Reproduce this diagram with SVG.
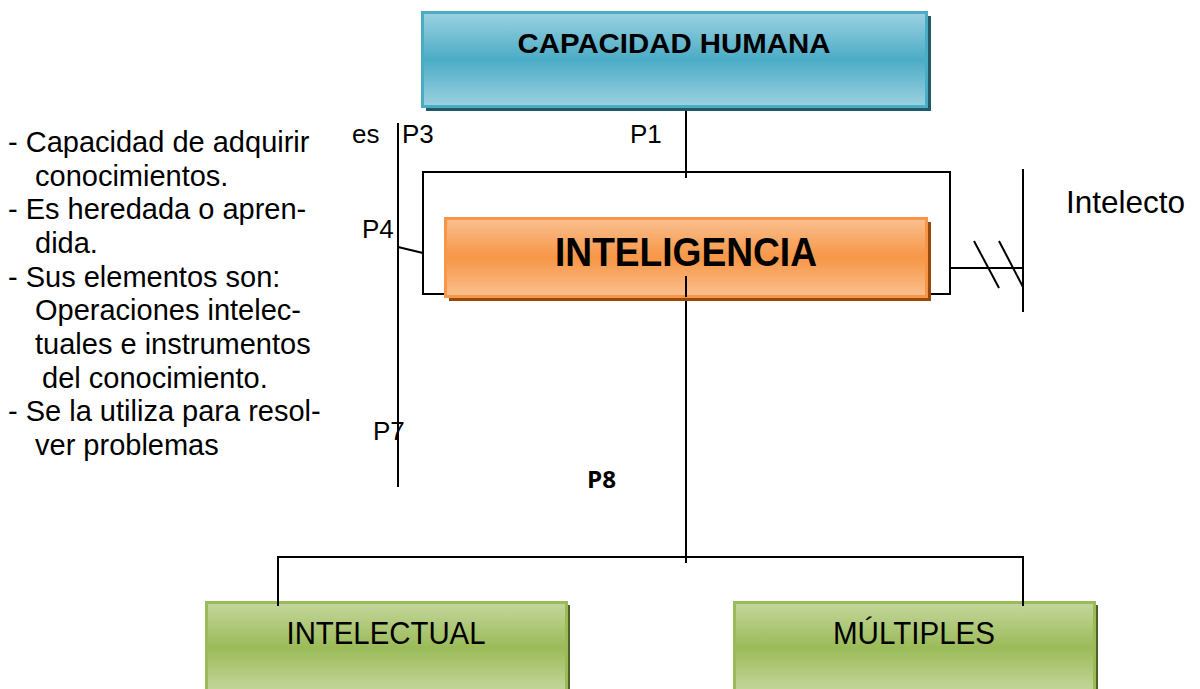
<svg xmlns="http://www.w3.org/2000/svg" width="1200" height="689" viewBox="0 0 1200 689">
<defs>
<linearGradient id="gBlue" x1="0" y1="0" x2="0" y2="1">
<stop offset="0" stop-color="#9CD2E1"/><stop offset="0.5" stop-color="#4BACC6"/><stop offset="1" stop-color="#9CD2E1"/>
</linearGradient>
<linearGradient id="gOrange" x1="0" y1="0" x2="0" y2="1">
<stop offset="0" stop-color="#FAC090"/><stop offset="0.5" stop-color="#F79646"/><stop offset="1" stop-color="#FAC090"/>
</linearGradient>
<linearGradient id="gGreen" x1="0" y1="0" x2="0" y2="1">
<stop offset="0" stop-color="#C4D79D"/><stop offset="0.5" stop-color="#9BBB59"/><stop offset="1" stop-color="#C4D79D"/>
</linearGradient>
</defs>
<style>
.ln{stroke:#000;stroke-width:2;fill:none}
.t{font-family:"Liberation Sans",Arial,sans-serif;fill:#000}
.lab{font-size:26px}
.side{font-size:29px}
</style>
<rect width="1200" height="689" fill="#fff"/>
<g id="connectors">
<line class="ln" x1="686" y1="111" x2="686" y2="178"/>
<rect class="ln" x="423" y="172" width="527" height="122"/>
<line class="ln" x1="398" y1="123" x2="398" y2="487"/>
<line class="ln" x1="398" y1="247" x2="423" y2="253"/>
<line class="ln" x1="950" y1="268" x2="1023" y2="268"/>
<line class="ln" x1="1023" y1="169" x2="1023" y2="312"/>
<line class="ln" x1="974" y1="241" x2="999" y2="288"/>
<line class="ln" x1="999" y1="241" x2="1023" y2="287"/>
<line class="ln" x1="686" y1="276" x2="686" y2="563"/>
<polyline class="ln" points="278,606 278,557 1023,557 1023,606"/>
</g>
<g id="node-capacidad">
<rect x="426" y="16" width="505" height="95" fill="#215968"/>
<rect x="422.5" y="12.5" width="504" height="94" fill="url(#gBlue)" stroke="#4BACC6" stroke-width="3"/>
<text class="t" x="674" y="53" font-size="28" font-weight="bold" text-anchor="middle" textLength="313" lengthAdjust="spacingAndGlyphs">CAPACIDAD HUMANA</text>
</g>
<g id="node-inteligencia">
<rect x="449" y="222" width="482" height="79" fill="#984807"/>
<rect x="445.5" y="218.5" width="481" height="78" fill="url(#gOrange)" stroke="#F79646" stroke-width="3"/>
<text class="t" x="686" y="266" font-size="40" font-weight="bold" text-anchor="middle" textLength="262" lengthAdjust="spacingAndGlyphs">INTELIGENCIA</text>
</g>
<line class="ln" x1="686" y1="276" x2="686" y2="297"/>
<g id="node-intelectual">
<rect x="209" y="605" width="361" height="90" fill="#4F6228"/>
<rect x="206.5" y="602.5" width="360" height="90" fill="url(#gGreen)" stroke="#9BBB59" stroke-width="3"/>
<text class="t" x="386" y="644" font-size="31" text-anchor="middle" textLength="199" lengthAdjust="spacingAndGlyphs">INTELECTUAL</text>
</g>
<g id="node-multiples">
<rect x="737" y="605" width="361" height="90" fill="#4F6228"/>
<rect x="734.5" y="602.5" width="360" height="90" fill="url(#gGreen)" stroke="#9BBB59" stroke-width="3"/>
<text class="t" x="914" y="644" font-size="31" text-anchor="middle" textLength="162" lengthAdjust="spacingAndGlyphs">MÚLTIPLES</text>
</g>
<line class="ln" x1="278" y1="557" x2="278" y2="606"/>
<line class="ln" x1="1023" y1="557" x2="1023" y2="606"/>
<g id="labels">
<text class="t lab" x="630" y="143">P1</text>
<text class="t lab" x="352" y="143" font-size="24">es</text>
<text class="t lab" x="402" y="143">P3</text>
<text class="t lab" x="362" y="238">P4</text>
<text class="t lab" x="373" y="440">P7</text>
<text x="587" y="488" font-family="'Open Sans',sans-serif" font-weight="bold" font-size="24" textLength="29" lengthAdjust="spacingAndGlyphs">P8</text>
<text class="t" x="1066" y="213" font-size="31.5">Intelecto</text>
</g>
<g id="side-text" class="t side">
<text x="8" y="152">- Capacidad de adquirir</text>
<text x="35" y="185.5">conocimientos.</text>
<text x="8" y="219">- Es heredada o apren-</text>
<text x="35" y="253">dida.</text>
<text x="8" y="286.5">- Sus elementos son:</text>
<text x="35" y="320">Operaciones intelec-</text>
<text x="35" y="354">tuales e instrumentos</text>
<text x="42" y="387.5">del conocimiento.</text>
<text x="8" y="421">- Se la utiliza para resol-</text>
<text x="35" y="455">ver problemas</text>
</g>
</svg>
